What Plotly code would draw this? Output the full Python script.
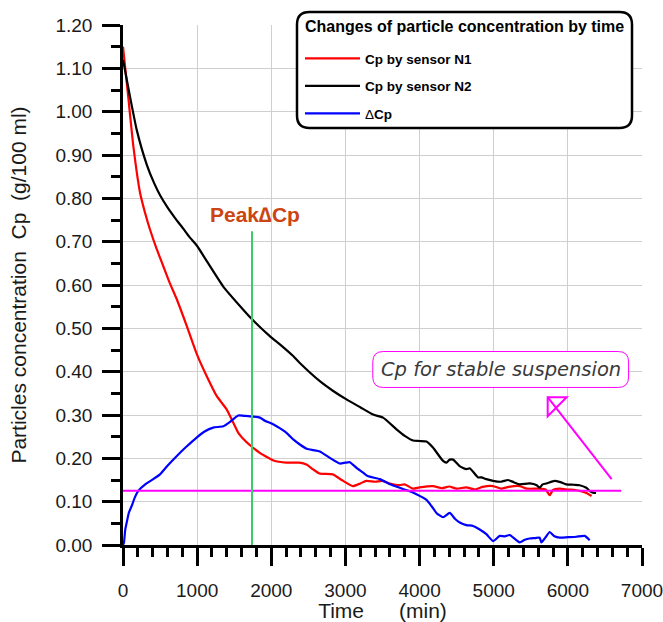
import plotly.graph_objects as go

# Time (min) and particle concentration Cp (g/100 ml) for each sensor
t_n1 = [0, 70, 140, 230, 300, 364, 450, 540, 630, 728, 863, 997, 1128, 1263, 1398, 1480,
        1555, 1650, 1750, 1850, 1940, 2030, 2200, 2380, 2480, 2560, 2650, 2830, 2950,
        3100, 3200, 3280, 3400, 3500, 3600, 3730, 3800, 3910, 4000, 4180, 4300, 4400,
        4500, 4630, 4750, 4850, 4990, 5100, 5200, 5350, 5450, 5620, 5700, 5755, 5800,
        5890, 6000, 6100, 6160, 6250, 6320]
cp_n1 = [1.15, 1.035, 0.92, 0.813, 0.765, 0.728, 0.685, 0.645, 0.605, 0.566, 0.504, 0.44,
         0.39, 0.344, 0.313, 0.285, 0.259, 0.24, 0.225, 0.212, 0.203, 0.195, 0.19, 0.19,
         0.185, 0.175, 0.165, 0.163, 0.15, 0.136, 0.142, 0.148, 0.146, 0.148, 0.142, 0.138,
         0.14, 0.13, 0.133, 0.136, 0.131, 0.135, 0.13, 0.133, 0.128, 0.134, 0.136, 0.13,
         0.134, 0.136, 0.13, 0.13, 0.128, 0.115, 0.127, 0.13, 0.128, 0.127, 0.125, 0.12,
         0.113]

t_n2 = [0, 94, 185, 320, 420, 500, 600, 700, 813, 900, 1000, 1130, 1350, 1580, 1734, 1980,
        2116, 2295, 2385, 2655, 2830, 3014, 3200, 3373, 3508, 3689, 3800, 3913, 4000,
        4093, 4180, 4317, 4362, 4407, 4452, 4540, 4632, 4677, 4789, 4834, 4900, 4991,
        5100, 5193, 5270, 5350, 5485, 5580, 5620, 5660, 5710, 5822, 5900, 5979, 6080,
        6159, 6249, 6300, 6339, 6380]
cp_n2 = [1.12, 1.035, 0.958, 0.878, 0.835, 0.807, 0.779, 0.755, 0.73, 0.71, 0.69, 0.655,
         0.597, 0.551, 0.522, 0.482, 0.463, 0.436, 0.42, 0.378, 0.356, 0.336, 0.318, 0.301,
         0.294, 0.267, 0.252, 0.241, 0.24, 0.239, 0.225, 0.194, 0.19, 0.197, 0.197, 0.182,
         0.175, 0.177, 0.156, 0.156, 0.152, 0.148, 0.146, 0.15, 0.145, 0.14, 0.142, 0.138,
         0.132, 0.14, 0.142, 0.148, 0.145, 0.14, 0.139, 0.138, 0.132, 0.124, 0.121, 0.12]

t_dcp = [0, 13, 30, 50, 80, 117, 160, 206, 300, 409, 499, 600, 723, 850, 993, 1100, 1217,
         1353, 1450, 1555, 1630, 1712, 1846, 1920, 1981, 2071, 2205, 2300, 2385, 2480,
         2565, 2655, 2800, 2924, 3000, 3059, 3150, 3239, 3300, 3464, 3600, 3733, 3850,
         3958, 4093, 4160, 4227, 4317, 4407, 4480, 4542, 4630, 4722, 4800, 4901, 4991,
         5081, 5150, 5215, 5300, 5350, 5420, 5485, 5560, 5620, 5643, 5700, 5755, 5820,
         5890, 6000, 6114, 6227, 6294]
dcp = [0.0, 0.006, 0.035, 0.052, 0.075, 0.09, 0.11, 0.125, 0.14, 0.152, 0.163, 0.183,
       0.205, 0.226, 0.248, 0.262, 0.271, 0.274, 0.285, 0.299, 0.298, 0.297, 0.294, 0.286,
       0.282, 0.274, 0.259, 0.243, 0.232, 0.222, 0.219, 0.216, 0.2, 0.188, 0.19, 0.191,
       0.178, 0.167, 0.159, 0.152, 0.14, 0.132, 0.125, 0.117, 0.104, 0.09, 0.074, 0.064,
       0.074, 0.06, 0.052, 0.046, 0.044, 0.037, 0.025, 0.009, 0.021, 0.02, 0.023, 0.012,
       0.006, 0.012, 0.015, 0.016, 0.017, 0.006, 0.018, 0.03, 0.02, 0.017, 0.018, 0.019,
       0.021, 0.011]

# Stable-suspension level and peak time
stable_t = [0, 6720]
stable_cp = [0.125, 0.125]
peak_t = 1740
peak_top = 0.724

FONT = "Liberation Sans, Arial, sans-serif"
MAGENTA = "#ff00ff"


def curve_line(color):
    return dict(color=color, width=2.2, shape="spline", smoothing=0.5)


fig = go.Figure()
fig.add_trace(go.Scatter(x=t_n1, y=cp_n1, mode="lines", name="Cp by sensor N1",
                         line=curve_line("#ff0000"), legendgroup="a"))
fig.add_trace(go.Scatter(x=t_n2, y=cp_n2, mode="lines", name="Cp by sensor N2",
                         line=curve_line("#000000"), legendgroup="b"))
fig.add_trace(go.Scatter(x=t_dcp, y=dcp, mode="lines",
                         name="<span style='font-weight:normal'>Δ</span>Cp",
                         line=curve_line("#0000ff"), legendgroup="c"))
fig.add_trace(go.Scatter(x=stable_t, y=stable_cp, mode="lines", showlegend=False,
                         line=dict(color=MAGENTA, width=2)))


def px_to_paper_x(px):
    return (px - 123) / 519.0


def px_to_paper_y(py):
    return (545 - py) / 520.0


def rounded_rect(x0, y0, x1, y1, rx, ry):
    # x0<x1, y0<y1 in the shape's coordinate system
    return (f"M {x0 + rx},{y0} L {x1 - rx},{y0} Q {x1},{y0} {x1},{y0 + ry} "
            f"L {x1},{y1 - ry} Q {x1},{y1} {x1 - rx},{y1} L {x0 + rx},{y1} "
            f"Q {x0},{y1} {x0},{y1 - ry} L {x0},{y0 + ry} Q {x0},{y0} {x0 + rx},{y0} Z")


shapes = []
# legend frame
lx0, lx1 = px_to_paper_x(297), px_to_paper_x(632)
ly0, ly1 = px_to_paper_y(128), px_to_paper_y(12)
shapes.append(dict(type="path", xref="paper", yref="paper",
                   path=rounded_rect(lx0, ly0, lx1, ly1, 0.024, 0.024),
                   fillcolor="white", line=dict(color="black", width=2.5), layer="above"))
# callout frame
shapes.append(dict(type="path", xref="x", yref="y",
                   path=rounded_rect(3369, 0.3636, 6819, 0.4465, 140, 0.024),
                   fillcolor="white", line=dict(color=MAGENTA, width=1), layer="above"))
# peak marker
shapes.append(dict(type="line", xref="x", yref="y", x0=peak_t, x1=peak_t, y0=0, y1=peak_top,
                   line=dict(color="#3ccb6a", width=2), layer="above"))
# pointer to the stable level
shapes.append(dict(type="line", xref="x", yref="y", x0=6590, y0=0.152, x1=5728, y1=0.341,
                   line=dict(color=MAGENTA, width=2), layer="above"))
shapes.append(dict(type="path", xref="x", yref="y",
                   path="M 5728,0.341 L 5984,0.341 L 5728,0.297 Z",
                   line=dict(color=MAGENTA, width=2), layer="above"))

annotations = [
    dict(x=px_to_paper_x(303), y=px_to_paper_y(27), xref="paper", yref="paper",
         xanchor="left", yanchor="middle", showarrow=False,
         text="<b>Changes of particle concentration by time</b>",
         font=dict(family=FONT, size=16, color="black")),
    dict(x=1775, y=0.762, xref="x", yref="y", text="<b>Peak∆Cp</b>", showarrow=False,
         font=dict(family=FONT, size=21, color="#cc4411")),
    dict(x=5094, y=0.405, xref="x", yref="y", text="<i>Cp for stable suspension</i>",
         showarrow=False, font=dict(family="DejaVu Sans, sans-serif", size=19.5, color="#3a3a3a")),
]

axis_common = dict(
    showline=True, linecolor="black", linewidth=2.5, mirror=False,
    ticks="outside", ticklen=18, tickwidth=2.5, tickcolor="black",
    showgrid=True, gridcolor="#cfcfcf", gridwidth=1, zeroline=False,
    ticklabeloverflow="allow",
    tickfont=dict(family=FONT, size=19, color="#1a1a1a"),
)

fig.update_layout(
    width=663, height=622,
    margin=dict(l=123, r=21, t=25, b=77, autoexpand=False),
    paper_bgcolor="white", plot_bgcolor="white",
    font=dict(family=FONT, color="black"),
    xaxis=dict(range=[0, 7000], tick0=0, dtick=1000,
               minor=dict(dtick=200, ticklen=9, tickwidth=2.5, tickcolor="black",
                          ticks="outside", showgrid=False),
               ticklabelstandoff=8,
               title=dict(text="Time\u00a0\u00a0\u00a0\u00a0\u00a0\u00a0(min)",
                          font=dict(family=FONT, size=21, color="#1a1a1a"), standoff=0),
               **axis_common),
    yaxis=dict(range=[0, 1.2], tick0=0, dtick=0.1, tickformat=".2f",
               minor=dict(dtick=0.05, ticklen=9, tickwidth=2.5, tickcolor="black",
                          ticks="outside", showgrid=False),
               ticklabelstandoff=6,
               title=dict(text="Particles concentration\u00a0\u00a0Cp\u00a0\u00a0(g/100 ml)",
                          font=dict(family=FONT, size=21, color="#1a1a1a"), standoff=24),
               **axis_common),
    legend=dict(x=px_to_paper_x(300), y=px_to_paper_y(43), xanchor="left", yanchor="top",
                bgcolor="rgba(0,0,0,0)", borderwidth=0, traceorder="grouped",
                tracegroupgap=7, itemwidth=55,
                font=dict(family=FONT, size=13.5, color="black", weight="bold")),
    shapes=shapes,
    annotations=annotations,
)

fig.write_html("out.html")
